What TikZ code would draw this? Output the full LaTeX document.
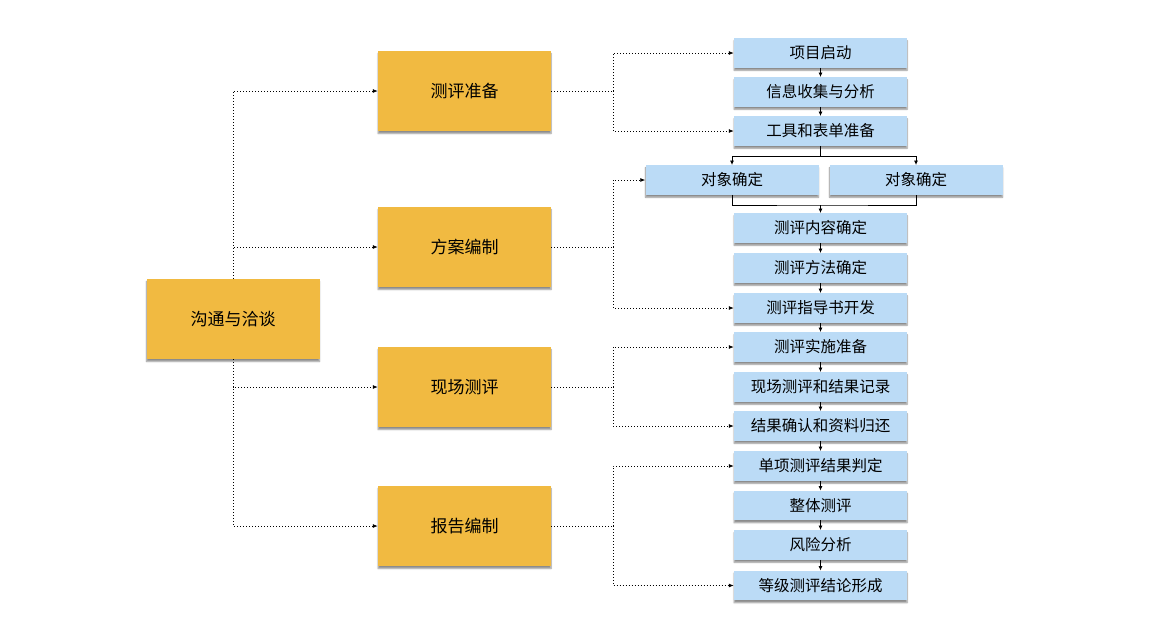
\documentclass[tikz,border=0pt]{standalone}
\usepackage{fontspec}
\setmainfont{Noto Sans CJK SC}
\usetikzlibrary{arrows.meta,shadows,shadows.blur,calc}
\definecolor{ybox}{HTML}{F1BA41}
\definecolor{bbox}{HTML}{BBDBF6}
\begin{document}
\begin{tikzpicture}[x=1pt,y=-1pt,
  shad/.style={blur shadow={shadow xshift=0pt,shadow yshift=-2.5pt,shadow blur radius=1.5pt,shadow blur steps=6,shadow opacity=45}},
  yel/.style={shad,fill=ybox,minimum width=173pt,minimum height=80pt,inner sep=0pt,font=\fontsize{17}{19}\selectfont},
  blu/.style={shad,fill=bbox,minimum width=173pt,minimum height=29.5pt,inner sep=0pt,font=\fontsize{15.5}{17}\selectfont},
  dotl/.style={line width=0.8pt,dash pattern=on 0.9pt off 2.1pt},
  dotarrow/.style={dotl,-{Latex[length=5pt,width=4pt]}},
  sline/.style={line width=0.8pt},
  sarrow/.style={sline,-{Latex[length=4.5pt,width=4pt]}}
]
\useasboundingbox (0,0) rectangle (1150,638);
% main and phases
\node[yel] (main) at (233,319) {沟通与洽谈};
\node[yel] (p1) at (464.5,91) {测评准备};
\node[yel] (p2) at (464.5,247) {方案编制};
\node[yel] (p3) at (464.5,387) {现场测评};
\node[yel] (p4) at (464.5,526) {报告编制};
% steps
\node[blu] (b1) at (820.5,53) {项目启动};
\node[blu] (b2) at (820.5,92) {信息收集与分析};
\node[blu] (b3) at (820.5,131) {工具和表单准备};
\node[blu] (o1) at (732,180) {对象确定};
\node[blu] (o2) at (916,180) {对象确定};
\node[blu] (c1) at (820.5,228) {测评内容确定};
\node[blu] (c2) at (820.5,268) {测评方法确定};
\node[blu] (c3) at (820.5,308) {测评指导书开发};
\node[blu] (d1) at (820.5,347) {测评实施准备};
\node[blu] (d2) at (820.5,387) {现场测评和结果记录};
\node[blu] (d3) at (820.5,426) {结果确认和资料归还};
\node[blu] (e1) at (820.5,466) {单项测评结果判定};
\node[blu] (e2) at (820.5,505.5) {整体测评};
\node[blu] (e3) at (820.5,545) {风险分析};
\node[blu] (e4) at (820.5,585.5) {等级测评结论形成};
% main to phases
\draw[dotarrow] (main.north) |- (p1.west);
\draw[dotarrow] (main.north) |- (p2.west);
\draw[dotarrow] (main.south) |- (p3.west);
\draw[dotarrow] (main.south) |- (p4.west);
% phase brackets
\coordinate (j1) at (613,91);
\coordinate (j2) at (613,247);
\coordinate (j3) at (613,387);
\coordinate (j4) at (613,526);
\draw[dotl] (p1.east) -- (j1);
\draw[dotarrow] (j1) |- (b1.west);
\draw[dotarrow] (j1) |- (b3.west);
\draw[dotl] (p2.east) -- (j2);
\draw[dotarrow] (j2) |- (o1.west);
\draw[dotarrow] (j2) |- (c3.west);
\draw[dotl] (p3.east) -- (j3);
\draw[dotarrow] (j3) |- (d1.west);
\draw[dotarrow] (j3) |- (d3.west);
\draw[dotl] (p4.east) -- (j4);
\draw[dotarrow] (j4) |- (e1.west);
\draw[dotarrow] (j4) |- (e4.west);
% step arrows
\draw[sarrow] (b1) -- (b2);
\draw[sarrow] (b2) -- (b3);
\coordinate (s1) at (820.5,156);
\draw[sline] (b3.south) -- (s1);
\draw[sarrow] (s1) -| (o1.north);
\draw[sarrow] (s1) -| (o2.north);
\coordinate (m1) at (820.5,205);
\draw[sline] (o1.south) |- (m1) -| (o2.south);
\draw[sarrow] (m1) -- (c1.north);
\draw[sarrow] (c1) -- (c2);
\draw[sarrow] (c2) -- (c3);
\draw[sarrow] (c3) -- (d1);
\draw[sarrow] (d1) -- (d2);
\draw[sarrow] (d2) -- (d3);
\draw[sarrow] (d3) -- (e1);
\draw[sarrow] (e1) -- (e2);
\draw[sarrow] (e2) -- (e3);
\draw[sarrow] (e3) -- (e4);
\end{tikzpicture}
\end{document}
